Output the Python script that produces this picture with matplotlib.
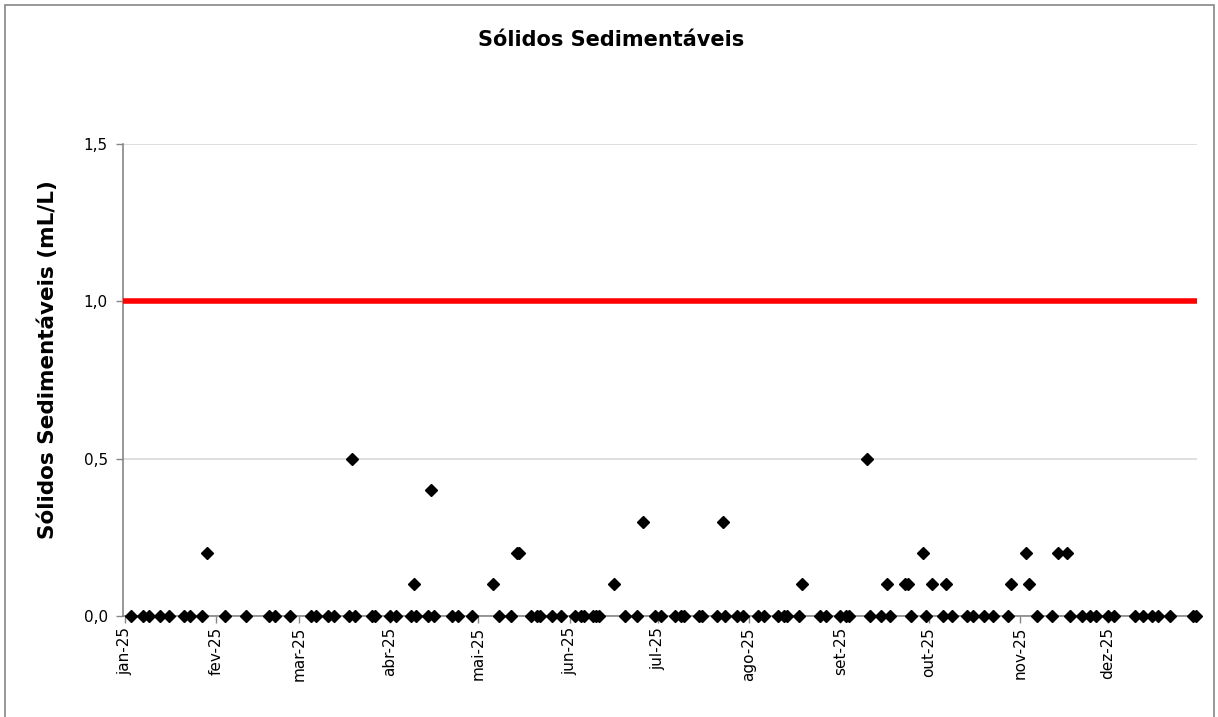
import matplotlib
matplotlib.use("Agg")
import matplotlib.pyplot as plt
import matplotlib.dates as mdates
import numpy as np
from matplotlib.patches import Rectangle

# dates (2025) and values, mL/L
dates = [
    "01-03", "01-07", "01-09", "01-13", "01-16", "01-21", "01-23", "01-27", "01-29",
    "02-04", "02-11", "02-19", "02-21", "02-26",
    "03-05", "03-07", "03-11", "03-13", "03-18", "03-19", "03-20", "03-26", "03-27",
    "04-01", "04-03", "04-08", "04-09", "04-10", "04-14", "04-15", "04-16", "04-22",
    "04-24", "04-29",
    "05-06", "05-08", "05-12", "05-14", "05-15", "05-19", "05-21", "05-22", "05-26",
    "05-29",
    "06-03", "06-05", "06-06", "06-09", "06-10", "06-11", "06-16", "06-20", "06-24",
    "06-26", "06-30",
    "07-02", "07-07", "07-09", "07-10", "07-15", "07-16", "07-21", "07-23", "07-24",
    "07-28", "07-30",
    "08-04", "08-06", "08-11", "08-13", "08-14", "08-18", "08-19", "08-25", "08-27",
    "09-01", "09-03", "09-04", "09-10", "09-11", "09-15", "09-17", "09-18", "09-23",
    "09-24", "09-25", "09-29", "09-30",
    "10-02", "10-06", "10-07", "10-09", "10-14", "10-16", "10-20", "10-23", "10-28",
    "10-29",
    "11-03", "11-04", "11-07", "11-12", "11-14", "11-17", "11-18", "11-22", "11-25",
    "11-27",
    "12-01", "12-03", "12-10", "12-13", "12-16", "12-18", "12-22", "12-30", "12-31",
]
values = [
    0, 0, 0, 0, 0, 0, 0, 0, 0.2,
    0, 0, 0, 0, 0,
    0, 0, 0, 0, 0, 0.5, 0, 0, 0,
    0, 0, 0, 0.1, 0, 0, 0.4, 0, 0,
    0, 0,
    0.1, 0, 0, 0.2, 0.2, 0, 0, 0, 0,
    0,
    0, 0, 0, 0, 0, 0, 0.1, 0, 0,
    0.3, 0,
    0, 0, 0, 0, 0, 0, 0, 0.3, 0,
    0, 0,
    0, 0, 0, 0, 0, 0, 0.1, 0, 0,
    0, 0, 0, 0.5, 0, 0, 0.1, 0, 0.1,
    0.1, 0, 0.2, 0,
    0.1, 0, 0.1, 0, 0, 0, 0, 0, 0,
    0.1,
    0.2, 0.1, 0, 0, 0.2, 0.2, 0, 0, 0,
    0,
    0, 0, 0, 0, 0, 0, 0, 0, 0,
]
limit = 1.0

month_labels = ["jan-25", "fev-25", "mar-25", "abr-25", "mai-25", "jun-25",
                "jul-25", "ago-25", "set-25", "out-25", "nov-25", "dez-25"]
y_ticks = [0.0, 0.5, 1.0, 1.5]

x = np.array(["2025-" + d for d in dates], dtype="datetime64[D]")
x_num = mdates.date2num(x.astype("O"))
month_starts = mdates.date2num(np.arange("2025-01", "2026-01", dtype="datetime64[M]")
                               .astype("datetime64[D]").astype("O"))
x0 = mdates.date2num(np.datetime64("2025-01-01").astype("O"))
x1 = mdates.date2num(np.datetime64("2026-01-01").astype("O"))

plt.rcParams['font.family'] = ['DejaVu Sans']

fig = plt.figure(figsize=(12.18, 7.17), dpi=100)
ax = fig.add_axes([0.101, 0.141, 0.882, 0.658])

ax.set_ylim(0, 1.5)
ax.set_xlim(x0 - 0.7, x1 - 0.7)
ax.set_yticks(y_ticks)
ax.set_yticklabels(["{:.1f}".format(v).replace(".", ",") for v in y_ticks], fontsize=11)
ax.yaxis.grid(True, color="#d9d9d9", linewidth=1.2)
ax.set_axisbelow(True)

ax.set_xticks(month_starts)
ax.set_xticklabels(month_labels, rotation=90, fontsize=11)

for side in ["top", "right"]:
    ax.spines[side].set_visible(False)
for side in ["left", "bottom"]:
    ax.spines[side].set_color("#868686")
    ax.spines[side].set_linewidth(1.2)
ax.tick_params(axis="both", colors="#868686", length=5, width=1, labelcolor="black")
ax.tick_params(axis="x", pad=3)
ax.tick_params(axis="y", pad=6)

ax.axhline(limit, color="#ff0000", linewidth=4, zorder=3)
ax.plot(x_num, values, linestyle="none", marker="D", markersize=6.5,
        color="black", clip_on=False, zorder=4)

ax.set_ylabel("Sólidos Sedimentáveis (mL/L)", fontsize=15.5, fontweight="bold")
ax.yaxis.set_label_coords(-0.0605, 0.543)
fig.text(0.502, 0.944, "Sólidos Sedimentáveis", ha="center", va="center",
         fontsize=15, fontweight="bold")

fig.patches.append(Rectangle((0.004, -0.01), 0.993, 1.003, transform=fig.transFigure,
                             fill=False, edgecolor="#868686", linewidth=1.2))

fig.savefig("out.png", dpi=100)
